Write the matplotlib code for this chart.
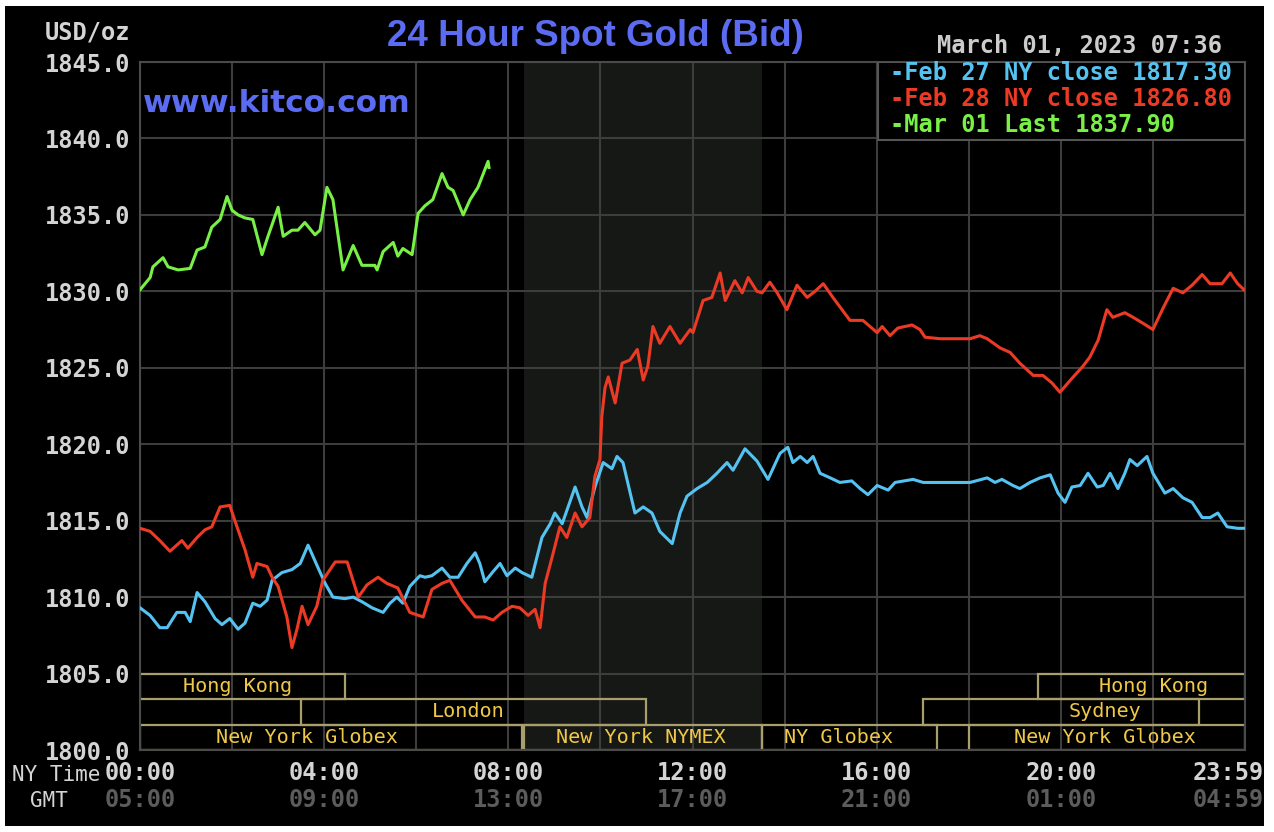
import matplotlib as mpl
mpl.use('Agg')
import matplotlib.pyplot as plt
from matplotlib.patches import Rectangle

# --- data (hours NY time, price USD/oz) ---
feb27_hours = [0, 0.22, 0.43, 0.59, 0.80, 0.98, 1.09, 1.24, 1.41, 1.63, 1.78, 1.95, 2.13, 2.28, 2.45,
               2.61, 2.76, 2.87, 3.08, 3.30, 3.48, 3.65, 3.84, 4.02, 4.19, 4.45, 4.63, 4.82, 5.04, 5.28,
               5.43, 5.58, 5.71, 5.86, 6.08, 6.19, 6.34, 6.56, 6.73, 6.91, 7.10, 7.28, 7.38, 7.49, 7.65,
               7.82, 7.97, 8.15, 8.30, 8.51, 8.62, 8.73, 8.91, 9.01, 9.17, 9.45, 9.60, 9.71, 9.88, 10.06,
               10.25, 10.36, 10.49, 10.75, 10.93, 11.12, 11.29, 11.56, 11.73, 11.88, 12.10, 12.32, 12.53,
               12.75, 12.88, 13.14, 13.40, 13.64, 13.90, 14.07, 14.18, 14.34, 14.49, 14.62, 14.77, 14.99,
               15.20, 15.46, 15.64, 15.81, 16.01, 16.25, 16.40, 16.79, 17.01, 18.03, 18.40, 18.57, 18.72,
               18.96, 19.11, 19.33, 19.55, 19.77, 19.94, 20.09, 20.24, 20.42, 20.59, 20.79, 20.92, 21.07,
               21.24, 21.39, 21.50, 21.66, 21.87, 22.00, 22.26, 22.44, 22.65, 22.85, 23.07, 23.24, 23.41,
               23.61, 23.84, 23.98]
feb27_price = [1809.3, 1808.8, 1808.0, 1808.0, 1809.0, 1809.0, 1808.4, 1810.3, 1809.7, 1808.6, 1808.2,
               1808.6, 1807.9, 1808.3, 1809.6, 1809.4, 1809.8, 1811.1, 1811.6, 1811.8, 1812.2, 1813.4,
               1812.1, 1810.9, 1810.0, 1809.9, 1810.0, 1809.7, 1809.3, 1809.0, 1809.6, 1810.0, 1809.6,
               1810.7, 1811.4, 1811.3, 1811.4, 1811.9, 1811.3, 1811.3, 1812.2, 1812.9, 1812.2, 1811.0,
               1811.6, 1812.2, 1811.4, 1811.9, 1811.6, 1811.3, 1812.6, 1813.9, 1814.8, 1815.5, 1814.8,
               1817.2, 1815.9, 1815.2, 1817.2, 1818.8, 1818.4, 1819.2, 1818.8, 1815.5, 1815.9, 1815.5,
               1814.3, 1813.5, 1815.5, 1816.6, 1817.1, 1817.5, 1818.1, 1818.8, 1818.3, 1819.7, 1818.9,
               1817.7, 1819.4, 1819.8, 1818.8, 1819.2, 1818.8, 1819.2, 1818.1, 1817.8, 1817.5, 1817.6,
               1817.1, 1816.7, 1817.3, 1817.0, 1817.5, 1817.7, 1817.5, 1817.5, 1817.8, 1817.5, 1817.7,
               1817.3, 1817.1, 1817.5, 1817.8, 1818.0, 1816.8, 1816.2, 1817.2, 1817.3, 1818.1, 1817.2,
               1817.3, 1818.1, 1817.1, 1818.1, 1819.0, 1818.6, 1819.2, 1818.1, 1816.8, 1817.1, 1816.5,
               1816.2, 1815.2, 1815.2, 1815.5, 1814.6, 1814.5, 1814.5]

feb28_hours = [0, 0.22, 0.43, 0.65, 0.91, 1.04, 1.24, 1.41, 1.56, 1.74, 1.95, 2.06, 2.28, 2.45, 2.54,
               2.76, 2.87, 3.00, 3.19, 3.30, 3.41, 3.52, 3.65, 3.84, 3.97, 4.24, 4.50, 4.74, 4.93, 5.17,
               5.36, 5.60, 5.86, 6.15, 6.34, 6.56, 6.73, 6.99, 7.28, 7.49, 7.67, 7.86, 8.08, 8.25, 8.43,
               8.58, 8.69, 8.80, 8.95, 9.12, 9.27, 9.45, 9.60, 9.77, 9.88, 9.99, 10.03, 10.10, 10.17,
               10.32, 10.47, 10.64, 10.80, 10.93, 11.03, 11.14, 11.29, 11.51, 11.73, 11.95, 12.01, 12.23,
               12.42, 12.60, 12.71, 12.92, 13.08, 13.21, 13.40, 13.51, 13.68, 13.84, 14.05, 14.27, 14.49,
               14.66, 14.84, 15.05, 15.42, 15.70, 16.01, 16.12, 16.29, 16.46, 16.77, 16.94, 17.05, 17.38,
               18.03, 18.24, 18.40, 18.68, 18.90, 19.11, 19.40, 19.61, 19.81, 19.98, 20.24, 20.48, 20.63,
               20.81, 21.00, 21.13, 21.39, 21.57, 21.79, 22.00, 22.22, 22.44, 22.65, 22.85, 23.07, 23.24,
               23.50, 23.68, 23.84, 23.98]
feb28_price = [1814.5, 1814.3, 1813.7, 1813.0, 1813.7, 1813.2, 1813.9, 1814.4, 1814.6, 1815.9, 1816.0,
               1815.0, 1813.1, 1811.3, 1812.2, 1812.0, 1811.3, 1810.7, 1808.7, 1806.7, 1807.9, 1809.4,
               1808.2, 1809.4, 1811.1, 1812.3, 1812.3, 1810.0, 1810.8, 1811.3, 1810.9, 1810.6, 1809.0,
               1808.7, 1810.5, 1810.9, 1811.1, 1809.8, 1808.7, 1808.7, 1808.5, 1809.0, 1809.4, 1809.3,
               1808.8, 1809.2, 1808.0, 1810.9, 1812.6, 1814.6, 1813.9, 1815.5, 1814.6, 1815.2, 1817.9,
               1819.0, 1821.8, 1823.7, 1824.4, 1822.7, 1825.3, 1825.5, 1826.2, 1824.2, 1825.1, 1827.7,
               1826.6, 1827.7, 1826.6, 1827.5, 1827.3, 1829.4, 1829.6, 1831.2, 1829.4, 1830.7, 1829.9,
               1830.9, 1830.0, 1829.9, 1830.6, 1829.9, 1828.8, 1830.4, 1829.6, 1830.0, 1830.5, 1829.6,
               1828.1, 1828.1, 1827.3, 1827.7, 1827.1, 1827.6, 1827.8, 1827.5, 1827.0, 1826.9, 1826.9,
               1827.1, 1826.9, 1826.3, 1826.0, 1825.3, 1824.5, 1824.5, 1824.0, 1823.4, 1824.3, 1825.1,
               1825.7, 1826.8, 1828.8, 1828.3, 1828.6, 1828.3, 1827.9, 1827.5, 1828.9, 1830.2, 1829.9,
               1830.4, 1831.1, 1830.5, 1830.5, 1831.2, 1830.5, 1830.1]

mar01_hours = [0, 0.11, 0.22, 0.28, 0.50, 0.61, 0.83, 1.09, 1.24, 1.41, 1.56, 1.74, 1.89, 2.00, 2.13,
               2.28, 2.45, 2.65, 2.78, 3.00, 3.11, 3.30, 3.43, 3.58, 3.80, 3.91, 4.06, 4.19, 4.41, 4.63,
               4.82, 5.10, 5.15, 5.28, 5.50, 5.60, 5.71, 5.91, 6.04, 6.19, 6.36, 6.56, 6.69, 6.80, 7.02,
               7.17, 7.34, 7.56, 7.58]
mar01_price = [1830.1, 1830.5, 1830.9, 1831.6, 1832.2, 1831.6, 1831.4, 1831.5, 1832.7, 1832.9, 1834.2,
               1834.7, 1836.2, 1835.3, 1835.0, 1834.8, 1834.7, 1832.4, 1833.6, 1835.5, 1833.6, 1834.0,
               1834.0, 1834.5, 1833.7, 1834.0, 1836.8, 1836.0, 1831.4, 1833.0, 1831.7, 1831.7, 1831.4,
               1832.6, 1833.2, 1832.3, 1832.8, 1832.4, 1835.1, 1835.6, 1836.0, 1837.7, 1836.8, 1836.6,
               1835.0, 1836.0, 1836.8, 1838.5, 1838.1]

legend_labels = ['-Feb 27 NY close 1817.30', '-Feb 28 NY close 1826.80', '-Mar 01 Last 1837.90']
series_colors = ['#55c3f2', '#ec3a24', '#78f046']

ny_ticks = [0, 4, 8, 12, 16, 20, 23.63]
ny_labels = ['00:00', '04:00', '08:00', '12:00', '16:00', '20:00', '23:59']
gmt_labels = ['05:00', '09:00', '13:00', '17:00', '21:00', '01:00', '04:59']

# sessions: name, row (0 top), start, end, label x
sessions = [
    ('Hong Kong', 0, 0.0, 4.45, 2.11),
    ('Hong Kong', 0, 19.5, 24.0, 22.02),
    ('London', 1, 3.5, 11.0, 7.12),
    ('Sydney', 1, 17.0, 23.0, 20.96),
    ('New York Globex', 2, 0.0, 8.3, 3.63),
    ('New York NYMEX', 2, 8.33, 13.5, 10.88),
    ('NY Globex', 2, 13.5, 17.3, 15.18),
    ('New York Globex', 2, 18.0, 24.0, 20.96),
]

mono = 'DejaVu Sans Mono'
msize = 17
W, H = 1274, 832
fig = plt.figure(figsize=(W / 100, H / 100), dpi=100, facecolor='white')
fig.patches.append(Rectangle((5 / W, 6 / H), 1259 / W, 820 / H, transform=fig.transFigure,
                             facecolor='black', edgecolor='none', zorder=-10))

ax = fig.add_axes([140 / W, 82 / H, 1105 / W, 688 / H])
ax.set_facecolor('black')
ax.set_xlim(0, 24)
ax.set_ylim(1800, 1845)

# grid
ax.set_xticks(range(0, 25, 2))
ax.set_yticks(range(1800, 1846, 5))
ax.grid(True, color='#3d3d3d', linewidth=1.5, zorder=1)
ax.set_axisbelow(True)
ax.tick_params(length=0, labelbottom=False)
ax.set_yticklabels(['%.1f' % v for v in range(1800, 1846, 5)], family=mono, weight='bold',
                   fontsize=msize, color='#d4d4d4')
ax.tick_params(axis='y', pad=7)
for s in ax.spines.values():
    s.set_color('#4a4a4a')
    s.set_linewidth(1.5)

# NYMEX shading
ax.axvspan(8.33, 13.5, color='#161816', zorder=0.5, linewidth=0)

# sessions
row_h = 5.0 / 3
for name, row, x0, x1, xl in sessions:
    y0 = 1805 - (row + 1) * row_h
    ax.add_patch(Rectangle((x0, y0), x1 - x0, row_h, facecolor='none', edgecolor='#a89f6c',
                           linewidth=1.6, zorder=2))
    ax.text(xl, y0 + row_h / 2, name, ha='center', va='center', family=mono, fontsize=14.5,
            color='#f0c848', zorder=3)

# series
ax.plot(feb27_hours, feb27_price, color=series_colors[0], linewidth=2.2, zorder=4)
ax.plot(feb28_hours, feb28_price, color=series_colors[1], linewidth=2.2, zorder=4)
ax.plot(mar01_hours, mar01_price, color=series_colors[2], linewidth=2.2, zorder=4)

# legend box
ax.add_patch(Rectangle((16.03, 1839.9), 24 - 16.03, 5.1, facecolor='black', edgecolor='#555555',
                       linewidth=1.5, zorder=5))
for i, (lab, c) in enumerate(zip(legend_labels, series_colors)):
    ax.text(16.3, 1844.25 - i * 1.7, lab, ha='left', va='center', family=mono, weight='bold',
            fontsize=msize, color=c, zorder=6)

# x labels (NY time and GMT)
xt = ax.get_xaxis_transform()
for x, a, b in zip(ny_ticks, ny_labels, gmt_labels):
    ax.text(x, -0.034, a, transform=xt, ha='center', va='center', family=mono, weight='bold',
            fontsize=msize, color='#d4d4d4', clip_on=False)
    ax.text(x, -0.073, b, transform=xt, ha='center', va='center', family=mono, weight='bold',
            fontsize=msize, color='#5c5c5c', clip_on=False)
fig.text(12 / W, 1 - 775 / H, 'NY Time', ha='left', va='center', family=mono, fontsize=15,
         color='#d4d4d4')
fig.text(30 / W, 1 - 801 / H, 'GMT', ha='left', va='center', family=mono, fontsize=15,
         color='#d4d4d4')

# header texts
fig.text(130 / W, 1 - 32 / H, 'USD/oz', ha='right', va='center', family=mono, weight='bold',
         fontsize=msize, color='#d4d4d4')
fig.text(595 / W, 1 - 37 / H, '24 Hour Spot Gold (Bid)', ha='center', va='center',
         family='Liberation Sans', weight='bold', fontsize=26.5, color='#5b6cf2')
fig.text(143 / W, 1 - 103 / H, 'www.kitco.com', ha='left', va='center', family='DejaVu Sans',
         weight='bold', fontsize=22.5, color='#5b6cf2')
fig.text(1222 / W, 1 - 46 / H, 'March 01, 2023 07:36', ha='right', va='center', family=mono,
         weight='bold', fontsize=msize, color='#cccccc')

fig.savefig('out.png', dpi=100, facecolor='white')
